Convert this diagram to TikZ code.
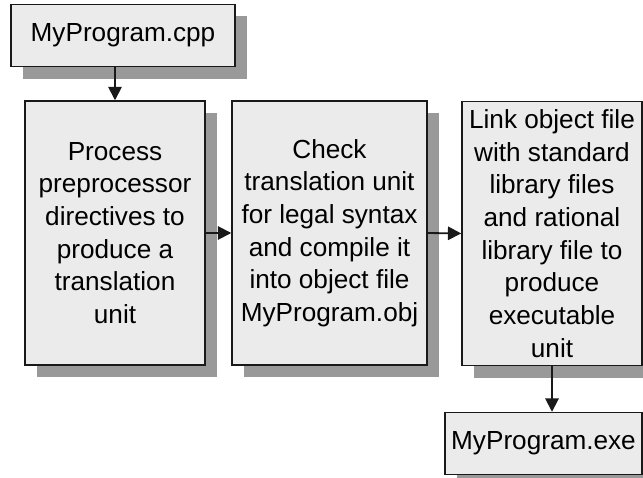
\documentclass[tikz,border=0pt]{standalone}
\usepackage{fontspec}
\setmainfont{Liberation Sans}
\usepackage{tikz}
\usetikzlibrary{arrows.meta,positioning,shadows}

\begin{document}
\begin{tikzpicture}[
    x=0.025cm,
    y=-0.025cm,
    >={Triangle[length=9.5pt,width=9.5pt]},
    stagebox/.style={
        draw=black!90,
        line width=1pt,
        fill=black!8,
        align=center,
        inner sep=0pt,
        font=\fontsize{18.6}{23.2}\selectfont,
        drop shadow={
            shadow xshift=0.3cm,
            shadow yshift=-0.3cm,
            fill=black!40,
            opacity=1
        }
    },
    filebox/.style={
        stagebox,
        minimum height=1.55cm
    },
    flow/.style={->,line width=1.3pt,draw=black!90}
]

\useasboundingbox (0,0) rectangle (643,478);

% ---------------------------------------------------------
% Source file
% ---------------------------------------------------------

\node[filebox,minimum width=5.6cm] (cpp) at (123,35.5)
{MyProgram.cpp};

% ---------------------------------------------------------
% Build stages
% ---------------------------------------------------------

\node[
    stagebox,
    minimum width=4.5cm,
    minimum height=6.6cm
] (prep) at (115,233)
{
Process\\
preprocessor\\
directives to\\
produce a\\
translation\\
unit
};

\node[
    stagebox,
    minimum width=4.875cm,
    minimum height=6.6cm
] (comp) at (329.5,233)
{
Check\\
translation unit\\
for legal syntax\\
and compile it\\
into object file\\
MyProgram.obj
};

\node[
    stagebox,
    minimum width=4.5cm,
    minimum height=6.6cm
] (link) at (552,233.5)
{
Link object file\\
with standard\\
library files\\
and rational\\
library file to\\
produce\\
executable\\
unit
};

% ---------------------------------------------------------
% Executable
% ---------------------------------------------------------

\node[filebox,minimum width=4.925cm] (exe) at (543.5,443.5)
{MyProgram.exe};

% ---------------------------------------------------------
% Connectors
% ---------------------------------------------------------

\draw[flow] (cpp.south -| prep.north) -- (prep.north);
\draw[flow] (prep.east) -- (comp.west);
\draw[flow] (comp.east) -- (link.west);
\draw[flow] (link.south) -- (link.south |- exe.north);

\end{tikzpicture}
\end{document}
